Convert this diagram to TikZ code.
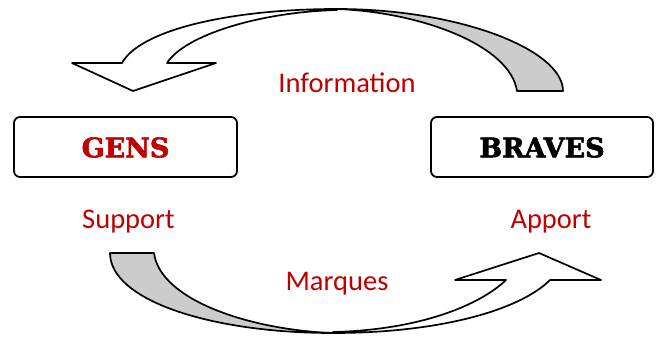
\documentclass[tikz,border=0pt]{standalone}
\usepackage{fontspec}
\newfontfamily\labelfont{Carlito}
\newfontfamily\boxfont[BoldFeatures={FakeBold=2}]{DejaVu Serif}
\definecolor{txtred}{RGB}{192,0,0}
\definecolor{backgray}{RGB}{204,204,204}
\begin{document}
\begin{tikzpicture}[x=1pt,y=-1pt,
  line join=round,
  entity/.style={draw=black,line width=1.8pt,rounded corners=6pt,fill=white},
  entitytext/.style={font=\boxfont\bfseries\fontsize{27}{30}\selectfont,inner sep=0pt},
  lbl/.style={font=\labelfont\fontsize{28.5}{30}\selectfont,text=txtred,inner sep=0pt,anchor=base},
  ribbon/.style={draw=black,line width=1.7pt,fill=white},
  ribbonback/.style={draw=black,line width=1.7pt,fill=backgray}]
\useasboundingbox (0,0) rectangle (660,337);

% boxes
\draw[entity] (14,117) rectangle (237,177);
\draw[entity] (431,117) rectangle (653,177);
\node[entitytext,text=txtred] (gens) at (125.5,147.5) {GENS};
\node[entitytext,text=black] (braves) at (542,147.5) {BRAVES};

% labels
\node[lbl] (info) at (347,92) {Information};
\node[lbl] (support) at (128.5,228) {Support};
\node[lbl] (apport) at (551,228) {Apport};
\node[lbl] (marques) at (337,290) {Marques};

% top curved arrow (back, gray)
\draw[ribbonback] (337,9) .. controls (460,9) and (563,50) .. (563,91)
  -- (517,91) .. controls (510,45) and (420,12) .. (337,9) -- cycle;
% top curved arrow (front, white with head)
\draw[ribbon] (337,9) .. controls (230,9) and (140,30) .. (122,63)
  -- (72,63) -- (133,91) -- (216,63) -- (167,63)
  .. controls (185,35) and (260,12) .. (337,10) -- cycle;

% bottom curved arrow (back, gray)
\draw[ribbonback] (110,253) .. controls (110,300) and (210,333) .. (333,333)
  .. controls (250,330) and (160,300) .. (154,253) -- cycle;
% bottom curved arrow (front, white with head)
\draw[ribbon] (333,333) .. controls (440,333) and (520,310) .. (550,280)
  -- (601,280) -- (539,253) -- (455,280) -- (506,280)
  .. controls (480,305) and (420,330) .. (333,332) -- cycle;
\end{tikzpicture}
\end{document}
